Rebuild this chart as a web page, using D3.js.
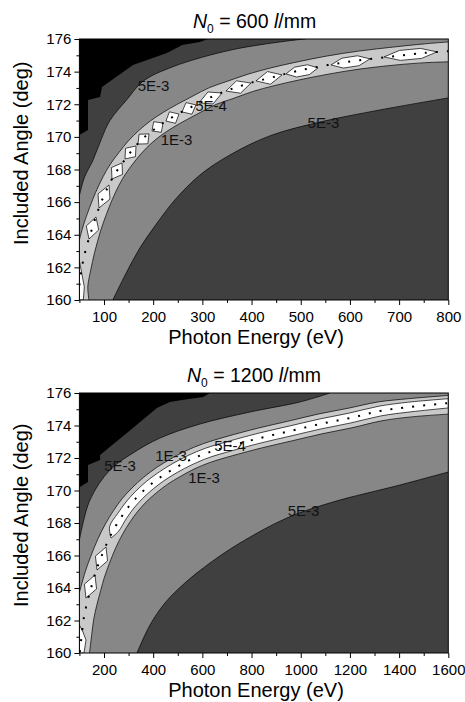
<!DOCTYPE html>
<html><head><meta charset="utf-8">
<script src="https://cdn.jsdelivr.net/npm/d3@7"></script>
<style>body{margin:0;background:#fff}svg{display:block;font-family:"Liberation Sans",Arial,Helvetica,sans-serif}</style>
</head><body><svg id="c" width="465" height="702"></svg>
<script>
// ---------- axis ticks ----------
const yTicks = [160,162,164,166,168,170,172,174,176];
const yMinor = [161,163,165,167,169,171,173,175];
const xTicks1 = [100,200,300,400,500,600,700,800];
const xMinor1 = [50,150,250,350,450,550,650,750];
const xTicks2 = [200,400,600,800,1000,1200,1400,1600];
const xMinor2 = [100,300,500,700,900,1100,1300,1500];

// ---------- panel 1 (600 l/mm): contour boundaries [eV, deg] ----------
const p1Black = [[311,176],[295,175.82],[259,175.63],[228,175.14],[159,174.41],[96,173.06],[92,172.45],[67.5,172.26],[67.5,170.42],[50,170.12]];
const p1Upper5 = [[50,166.4],[60,167.5],[78,168.6],[95,169.9],[112,171.0],[147,172.3],[179,173.4],[240,174.3],[362,175.35],[498,175.97],[510,176]];
const p1Lower5 = [[118,160],[143,161.53],[173,163.19],[208,164.72],[244,166.13],[295,167.66],[356,168.89],[437,170.06],[539,170.91],[661,171.65],[800,172.39]];
const p1LightUp = [[50,163.68],[58.3,164.6],[70.9,165.68],[83.1,166.6],[98.2,167.56],[113,168.33],[130.3,169.04],[149.4,169.75],[171.2,170.4],[194.9,170.99],[220.4,171.5],[249.8,172.01],[281.1,172.51],[314.5,173.02],[349.9,173.4],[391.3,173.83],[436.9,174.21],[490.5,174.58],[552.1,174.95],[618,175.26],[689.6,175.51],[751,175.7],[800,175.82]];
const p1LightLo = [[69.5,160],[67.1,160.81],[73,161.83],[80.9,162.91],[92.9,164.22],[104.7,165.24],[116.9,166.16],[130.3,167.03],[143.9,167.73],[159.2,168.37],[176.7,169.01],[195.6,169.59],[216.5,170.1],[239.9,170.57],[267.3,171.04],[297,171.52],[328.7,172.0],[362.5,172.35],[402.3,172.78],[446.2,173.14],[498.3,173.5],[558.6,173.86],[622.9,174.17],[693.6,174.41],[754.2,174.55],[800,174.6]];
const p1Center = [[50,160.9],[55,162.0],[63,163.1],[76,164.4],[88,165.5],[100,166.4],[114,167.3],[128,168.0],[145,168.7],[163,169.4],[183,170.0],[206,170.55],[230,171.05],[259,171.55],[289,172.0],[322,172.5],[356,172.9],[397,173.3],[442,173.65],[494,174.05],[555,174.4],[620,174.7],[692,174.95],[753,175.15],[800,175.25]];
const p1Islands = [
  [[69.5,163.74],[83.7,165.09]],[[89.8,165.64],[110.2,167.05]],[[116.3,167.42],[136.6,168.40]],
  [[142.7,168.65],[165.1,169.44]],[[169.1,169.56],[191.5,170.18]],[[197.6,170.36],[220,170.85]],
  [[226,170.97],[252.5,171.40]],[[258.6,171.53],[287,171.96]],[[293.1,172.08],[339.9,172.69]],
  [[348,172.81],[398.8,173.30]],[[409,173.43],[461.9,173.80]],[[470,173.86],[535.1,174.23]],
  [[561.5,174.41],[640.8,174.78]],[[669.3,174.90],[777,175.21]]];
const p1EdgeWhite = [[50,162.4],[55,161.6],[60,160.8],[58,160],[50,160]];
const p1Labels = [["5E-3",200.6,173.09],["5E-4",317.5,171.9],["1E-3",247.4,169.81],["5E-3",546.2,170.88]];

// ---------- panel 2 (1200 l/mm) ----------
const p2Black = [[631,176],[603,175.75],[517,175.57],[468,175.45],[415,175.08],[298,173.6],[184,172.18],[184,171.88],[135,171.57],[135,170.52],[100,170.2]];
const p2Upper5 = [[100,166.95],[143,169.42],[224,171.26],[318,172.31],[428,173.23],[590,174.09],[794,174.83],[997,175.45],[1119,176]];
const p2Lower5 = [[334,160],[387,161.72],[448,163.08],[529,164.31],[631,165.54],[753,166.77],[944,168.31],[1131,169.29],[1404,170.34],[1600,171.14]];
const p2LightUp = [[100,163.72],[107.7,164.15],[124.8,165.05],[145.9,165.94],[175.6,167.03],[205.3,167.93],[239.5,168.78],[274,169.5],[313.5,170.15],[361,170.81],[412.7,171.4],[468.4,171.92],[533,172.44],[605.4,172.89],[700.6,173.33],[824.6,173.83],[947,174.26],[1069.8,174.7],[1192.2,175.06],[1315,175.45],[1438.6,175.65],[1600,175.85]];
const p2LightLo = [[141.1,160],[150.8,161.22],[158.6,162.1],[170.3,162.92],[186.6,163.85],[202.1,164.68],[221.6,165.5],[248.8,166.51],[276.1,167.33],[307,168.09],[337.5,168.72],[371.2,169.29],[413.1,169.86],[459,170.39],[509,170.85],[566.4,171.32],[632.3,171.73],[724.2,172.15],[844.1,172.63],[965.7,173.06],[1086.9,173.49],[1208.4,173.86],[1329.6,174.29],[1450,174.53],[1600,174.7]];
const p2WhiteUp = [[228.5,167.08],[222.8,167.78],[256.5,168.6],[289.9,169.3],[328.1,169.94],[374.1,170.58],[424.5,171.14],[478.6,171.65],[541.2,172.15],[612.3,172.6],[706.7,173.03],[829.5,173.53],[951.9,173.96],[1073.9,174.39],[1196.2,174.76],[1318.6,175.19],[1441.4,175.44],[1600,175.65]];
const p2WhiteLo = [[228.5,167.08],[258.6,167.48],[290.3,168.26],[321.6,168.92],[357,169.51],[400.1,170.1],[447.7,170.64],[498.9,171.12],[558.3,171.59],[625.8,172.02],[718.5,172.44],[839.2,172.93],[961.2,173.36],[1082.8,173.79],[1204.4,174.16],[1325.9,174.59],[1447.1,174.84],[1600,175.08]];
const p2Center = [[102,160.06],[110.6,161.29],[118.7,162.22],[130.9,163.08],[147.2,164.0],[163.5,164.86],[183.8,165.72],[212.3,166.77],[240.7,167.63],[273.2,168.43],[305.7,169.11],[342.3,169.72],[387.1,170.34],[435.9,170.89],[488.7,171.38],[549.7,171.88],[618.9,172.31],[712.4,172.74],[834.4,173.23],[956.4,173.66],[1078.4,174.09],[1200.4,174.46],[1322.4,174.89],[1444.4,175.14],[1600,175.38]];
const p2Islands = [[[126.8,163.38],[163.4,164.8]],[[171.6,165.11],[208.2,166.52]]];
const p2EdgeWhite = [[100,161.72],[114.6,161.29],[126.8,160.8],[118.7,160],[100,160]];
const p2Labels = [["5E-3",265,171.5],["1E-3",472.5,172.12],["5E-4",712.4,172.74],["1E-3",606.6,170.77],["5E-3",1011.2,168.74]];

// ---------- style ----------
const C_BLACK="#000", C_DARK="#404040", C_MID="#878787", C_LIGHT="#c9c9c9", C_WHITE="#ffffff";
const svg = d3.select("#c");

function drawPanel(id, cfg){
  const x = d3.scaleLinear().domain(cfg.xDom).range([79.4,448.3]);
  const y = d3.scaleLinear().domain([160,176]).range([cfg.yBot, cfg.yTop]);
  const [x0,x1] = cfg.xDom;
  const line = d3.line().x(d=>x(d[0])).y(d=>y(d[1])).curve(d3.curveCatmullRom.alpha(0.5));
  const lin = d3.line().x(d=>x(d[0])).y(d=>y(d[1]));
  const join = (...parts)=>parts.map((p,i)=> i? p.replace(/^M/,"L"):p).join("")+"Z";
  svg.append("clipPath").attr("id","clip"+id).append("rect")
    .attr("x",x(x0)).attr("y",y(176)).attr("width",x(x1)-x(x0)).attr("height",y(160)-y(176));
  const g = svg.append("g").attr("clip-path",`url(#clip${id})`);
  g.append("rect").attr("x",x(x0)).attr("y",y(176)).attr("width",x(x1)-x(x0)).attr("height",y(160)-y(176)).attr("fill",C_MID);
  g.append("path").attr("d", join(line(cfg.upper5), lin([[x0,176]]))).attr("fill",C_DARK);
  g.append("path").attr("d", join(lin(cfg.black), lin([[x0,176]]))).attr("fill",C_BLACK);
  g.append("path").attr("d", join(line(cfg.lower5), lin([[x1,160]]))).attr("fill",C_DARK);
  g.append("path").attr("d", join(lin([[x0,160]]), line(cfg.lightUp), line(cfg.lightLo.slice().reverse())))
    .attr("fill",C_LIGHT);
  [cfg.upper5, cfg.lower5, cfg.lightUp, cfg.lightLo].forEach(arr=>{
    g.append("path").attr("d",line(arr)).attr("fill","none").attr("stroke","#000").attr("stroke-width",0.7);
  });
  if(cfg.whiteUp){
    g.append("path").attr("d", join(line(cfg.whiteUp), line(cfg.whiteLo.slice().reverse())))
      .attr("fill",C_WHITE).attr("stroke","#000").attr("stroke-width",0.7);
  }
  cfg.islands.forEach(([a,b])=>{
    const p1=[x(a[0]),y(a[1])], p2=[x(b[0]),y(b[1])];
    const dx=p2[0]-p1[0], dy=p2[1]-p1[1], L=Math.hypot(dx,dy);
    const nx=-dy/L, ny=dx/L;
    let pts;
    if(L<30){
      const w=cfg.islandW+1.5;
      const m=[(p1[0]+p2[0])/2,(p1[1]+p2[1])/2];
      pts=[p1,[m[0]+w*nx,m[1]+w*ny],p2,[m[0]-w*nx,m[1]-w*ny]];
    } else {
      const w=cfg.islandW;
      const q1=[p1[0]+0.3*dx,p1[1]+0.3*dy], q2=[p1[0]+0.7*dx,p1[1]+0.7*dy];
      pts=[p1,[q1[0]+w*nx,q1[1]+w*ny],[q2[0]+w*nx,q2[1]+w*ny],p2,[q2[0]-w*nx,q2[1]-w*ny],[q1[0]-w*nx,q1[1]-w*ny]];
    }
    g.append("path").attr("d","M"+pts.map(p=>p.join(",")).join("L")+"Z")
      .attr("fill",C_WHITE).attr("stroke","#000").attr("stroke-width",0.7);
  });
  g.append("path").attr("d",lin(cfg.edgeWhite)+"Z").attr("fill",C_WHITE).attr("stroke","#000").attr("stroke-width",0.7);
  g.append("path").attr("d",line(cfg.center)).attr("fill","none").attr("stroke","#000")
    .attr("stroke-width",2).attr("stroke-dasharray","2 9");
  cfg.labels.forEach(([t,e,a])=>{
    g.append("text").attr("x",x(e)).attr("y",y(a)+5).attr("text-anchor","middle")
      .attr("font-size",15).attr("fill","#111").text(t);
  });
  svg.append("rect").attr("x",x(x0)).attr("y",y(176)).attr("width",x(x1)-x(x0)).attr("height",y(160)-y(176))
    .attr("fill","none").attr("stroke","#000").attr("stroke-width",1);
  const ax = svg.append("g").attr("transform",`translate(0,${y(160)})`)
    .call(d3.axisBottom(x).tickValues(cfg.xTicks).tickSize(5).tickSizeOuter(0).tickFormat(d3.format("d")));
  const axm = svg.append("g").attr("transform",`translate(0,${y(160)})`)
    .call(d3.axisBottom(x).tickValues(cfg.xMinor).tickSize(3).tickSizeOuter(0).tickFormat(""));
  const ay = svg.append("g").attr("transform",`translate(${x(x0)},0)`)
    .call(d3.axisLeft(y).tickValues(yTicks).tickSize(5).tickSizeOuter(0).tickFormat(d3.format("d")));
  const aym = svg.append("g").attr("transform",`translate(${x(x0)},0)`)
    .call(d3.axisLeft(y).tickValues(yMinor).tickSize(3).tickSizeOuter(0).tickFormat(""));
  [ax,axm,ay,aym].forEach(a=>{
    a.select(".domain").remove();
    a.selectAll("line").attr("stroke","#000");
    a.selectAll("text").attr("font-size",15).attr("fill","#000").attr("font-family",'"Liberation Sans",Arial,sans-serif');
  });
  ax.selectAll("text").attr("dy","0.95em").attr("y",8);
  ay.selectAll("text").attr("x",-8);
  svg.append("text").attr("x",256).attr("y",y(160)+44).attr("text-anchor","middle").attr("font-size",20).text("Photon Energy (eV)");
  svg.append("text").attr("transform",`translate(28,${cfg.yLabelStart}) rotate(-90)`).attr("font-size",20).text("Included Angle (deg)");
  const t = svg.append("text").attr("x",cfg.titleX).attr("y",y(176)-11).attr("font-size",19.5);
  t.append("tspan").attr("font-style","italic").text("N");
  t.append("tspan").attr("font-size",12).attr("dy",5).text("0");
  t.append("tspan").attr("dy",-5).text(" = "+cfg.n0+" ");
  t.append("tspan").attr("font-style","italic").text("l");
  t.append("tspan").text("/mm");
}

drawPanel(1,{xDom:[50,800], yBot:300, yTop:39, xTicks:xTicks1, xMinor:xMinor1,
  black:p1Black, upper5:p1Upper5, lower5:p1Lower5, lightUp:p1LightUp, lightLo:p1LightLo,
  center:p1Center, islands:p1Islands, islandW:5, edgeWhite:p1EdgeWhite, labels:p1Labels,
  yLabelStart:245, titleX:193, n0:"600"});
drawPanel(2,{xDom:[100,1600], yBot:653, yTop:393, xTicks:xTicks2, xMinor:xMinor2,
  black:p2Black, upper5:p2Upper5, lower5:p2Lower5, lightUp:p2LightUp, lightLo:p2LightLo,
  whiteUp:p2WhiteUp, whiteLo:p2WhiteLo,
  center:p2Center, islands:p2Islands, islandW:5, edgeWhite:p2EdgeWhite, labels:p2Labels,
  yLabelStart:607, titleX:187, n0:"1200"});
</script></body></html>
